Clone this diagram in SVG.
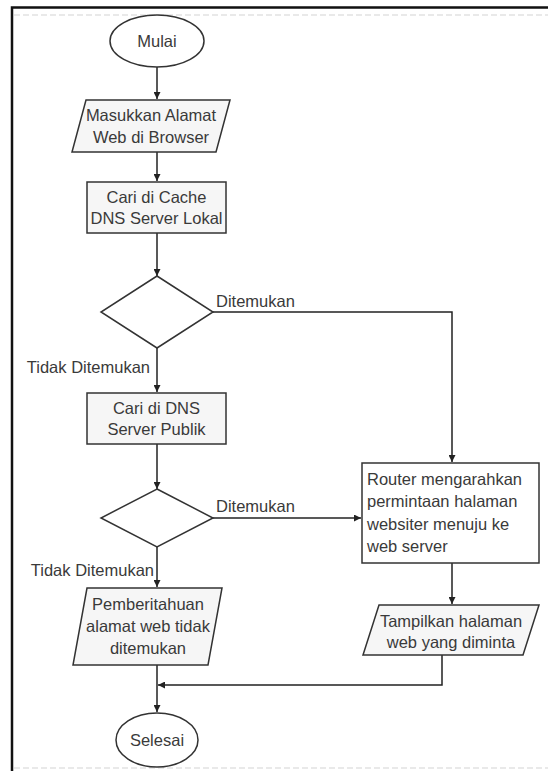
<svg xmlns="http://www.w3.org/2000/svg" width="548" height="771" viewBox="0 0 548 771">
<style>
.s{fill:#f6f6f6;stroke:#333;stroke-width:1.5}
.w{fill:#fff;stroke:#333;stroke-width:1.5}
.t{font-family:"Liberation Sans",Arial,sans-serif;font-size:16.5px;fill:#3a3a3a}
.c{text-anchor:middle}
.e{text-anchor:end}
.ln{fill:none;stroke:#222;stroke-width:1.5}
</style>
<defs>
<marker id="ar" viewBox="0 0 10 10" refX="10" refY="5" markerWidth="8" markerHeight="7" markerUnits="userSpaceOnUse" orient="auto">
<path d="M0,0 L10,5 L0,10 z" fill="#222"/>
</marker>
</defs>
<rect width="548" height="771" fill="#fff"/>
<g id="frame">
<path d="M12,771 V7.5 H548" fill="none" stroke="#111" stroke-width="2.5"/>
<line x1="14" y1="15" x2="548" y2="15" stroke="#e2e2e2" stroke-width="1.5" stroke-dasharray="6,3"/>
<line x1="14" y1="768" x2="548" y2="768" stroke="#e2e2e2" stroke-width="1.5" stroke-dasharray="6,3"/>
</g>
<g id="connectors">
<path class="ln" d="M157,67 V99" marker-end="url(#ar)"/>
<path class="ln" d="M157,152 V181" marker-end="url(#ar)"/>
<path class="ln" d="M157,233 V276" marker-end="url(#ar)"/>
<path class="ln" d="M213,312 H452 V462" marker-end="url(#ar)"/>
<path class="ln" d="M157,348 V392" marker-end="url(#ar)"/>
<path class="ln" d="M157,444 V489" marker-end="url(#ar)"/>
<path class="ln" d="M213,518 H361" marker-end="url(#ar)"/>
<path class="ln" d="M157,547 V587" marker-end="url(#ar)"/>
<path class="ln" d="M452,563 V604" marker-end="url(#ar)"/>
<path class="ln" d="M442,655 V685 H158" marker-end="url(#ar)"/>
<path class="ln" d="M157,665 V712" marker-end="url(#ar)"/>
<text class="t" x="216" y="307">Ditemukan</text>
<text class="t e" x="150" y="373">Tidak Ditemukan</text>
<text class="t" x="216" y="512">Ditemukan</text>
<text class="t e" x="154" y="576">Tidak Ditemukan</text>
</g>
<g id="mulai">
<ellipse class="w" cx="157" cy="41" rx="47" ry="26"/>
<text class="t c" x="157" y="47">Mulai</text>
</g>
<g id="masukkan">
<polygon class="s" points="86,100 230,100 216,152 72,152"/>
<text class="t c" x="151" y="121">Masukkan Alamat</text>
<text class="t c" x="151" y="143">Web di Browser</text>
</g>
<g id="cache">
<rect class="s" x="87" y="182" width="139" height="51"/>
<text class="t c" x="156.5" y="203">Cari di Cache</text>
<text class="t c" x="156.5" y="224">DNS Server Lokal</text>
</g>
<g id="decision1">
<polygon class="w" points="157,276 213,312 157,348 101,312"/>
</g>
<g id="publik">
<rect class="s" x="87" y="393" width="139" height="51"/>
<text class="t c" x="156.5" y="414">Cari di DNS</text>
<text class="t c" x="156.5" y="435">Server Publik</text>
</g>
<g id="decision2">
<polygon class="w" points="157,489 213,518 157,547 101,518"/>
</g>
<g id="router">
<rect class="w" x="362" y="463" width="177" height="100"/>
<text class="t" x="367" y="485">Router mengarahkan</text>
<text class="t" x="367" y="507">permintaan halaman</text>
<text class="t" x="367" y="530">websiter menuju ke</text>
<text class="t" x="367" y="552">web server</text>
</g>
<g id="pemberitahuan">
<polygon class="s" points="87,588 222,588 208,665 73,665"/>
<text class="t c" x="148" y="610">Pemberitahuan</text>
<text class="t c" x="148" y="632">alamat web tidak</text>
<text class="t c" x="148" y="654">ditemukan</text>
</g>
<g id="tampilkan">
<polygon class="s" points="379,605 539,605 523,655 363,655"/>
<text class="t c" x="451" y="627">Tampilkan halaman</text>
<text class="t c" x="451" y="648">web yang diminta</text>
</g>
<g id="selesai">
<ellipse class="w" cx="157" cy="740" rx="41" ry="27"/>
<text class="t c" x="157" y="746">Selesai</text>
</g>
</svg>
